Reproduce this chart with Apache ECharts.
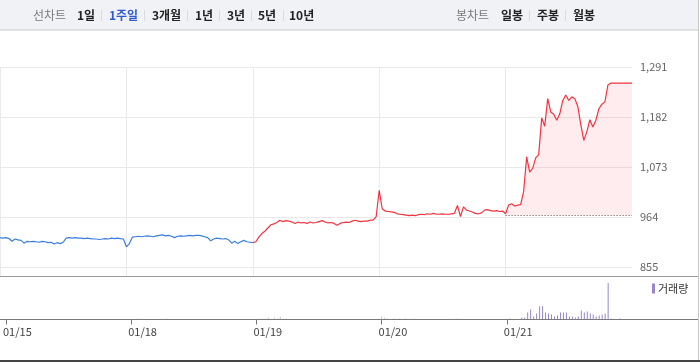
<!DOCTYPE html>
<html><head><meta charset="utf-8">
<script src="https://cdn.jsdelivr.net/npm/echarts@6/dist/echarts.min.js"></script>
<style>html,body{margin:0;padding:0;background:#fff}#c{width:700px;height:362px}</style>
</head><body><div id="c"></div>
<script>
// ---- data ----
const dates = ['01/15', '01/18', '01/19', '01/20', '01/21'];
const yTicks = [855, 964, 1073, 1182, 1291];
const prevClose = 967;
const priceD1 = [919,918,919,917,911,916,914,913,907,911,910,911,910,909,911,910,908,909,905,908,906,909,918,919,918,919,918,918,917,918,917,916,916,915,916,917,916,918,917,918,917,916];
const priceD2 = [899,906,920,921,922,921,922,923,922,921,923,924,925,923,924,922,919,922,923,922,923,924,923,924,924,923,921,919,912,916,918,917,916,917,914,907,911,906,910,913,910,909];
const priceD3 = [908,910,920,928,933,940,947,949,952,957,954,956,955,953,950,953,951,952,950,953,951,952,954,956,953,951,952,950,946,950,952,953,952,955,957,955,954,955,955,957,957,965];
const priceD4 = [1022,982,977,976,975,974,971,970,969,968,967,968,967,969,970,969,971,970,972,970,970,971,970,970,971,972,989,965,986,979,977,975,972,971,973,979,980,978,977,978,976,977];
const priceD5 = [971,990,993,988,990,991,1020,1095,1062,1070,1093,1100,1180,1162,1222,1193,1188,1175,1189,1218,1230,1218,1226,1222,1205,1165,1131,1150,1176,1160,1175,1200,1210,1215,1252,1256,1256,1256,1256,1256,1256,1256,1256];
const volD1 = [0,0,0,0,0,0,0,0,0,0,0,0,0,0,0,0,0,0,0,0,0,0,0,0,0,0,0,0,0,0,0,0,0,0,0,0,0,0,0,0,0,0];
const volD2 = [0,0,10,10,0,0,0,0,0,0,0,0,10,0,0,0,0,0,0,0,0,0,0,0,0,0,0,0,0,0,0,0,0,0,0,0,0,0,0,0,0,0];
const volD3 = [0,0,10,10,20,0,20,10,30,0,10,0,0,0,0,0,0,0,0,0,0,0,0,0,0,0,0,0,0,0,0,0,0,0,0,0,0,0,0,0,0,0];
const volD4 = [30,20,10,0,10,0,10,0,10,0,0,10,0,0,0,0,0,0,0,0,0,0,0,0,0,10,10,0,0,0,0,0,0,0,0,0,0,0,0,0,0,0];
const volD5 = [0,10,0,0,0,20,20,70,100,30,60,130,130,70,60,50,30,40,70,70,70,30,30,20,30,90,70,80,60,50,30,40,50,60,360,10,0,0,10,0,0,0,0];

// ---- build ----
const priceDays = [priceD1, priceD2, priceD3, priceD4, priceD5];
const volDays = [volD1, volD2, volD3, volD4, volD5];
const cats = [], prices = [], vols = [], dayStart = [];
priceDays.forEach((arr, d) => {
  dayStart.push(cats.length);
  arr.forEach((v, j) => {
    cats.push(dates[d] + ' ' + j);
    prices.push(v);
    vols.push({ value: volDays[d][j], itemStyle: { color: d === 4 ? '#9886c9' : '#c9c9c9' } });
  });
});
const N = cats.length;
const isDayStart = (i) => dayStart.indexOf(i) >= 0;
const slice = (a, b) => prices.map((v, i) => (i >= a && i <= b ? v : '-'));
const blueEnd = dayStart[2], areaStart = dayStart[4];

const FONT = '"Noto Sans CJK KR", "Noto Sans", sans-serif';
const chart = echarts.init(document.getElementById('c'), null, { renderer: 'canvas' });

// toolbar graphics
const tb = [];
tb.push({ type: 'rect', z: 0, shape: { x: -1, y: -1, width: 699.5, height: 31 }, style: { fill: '#f1f2f6', stroke: '#c9c9cc', lineWidth: 1 } });
const items = [
  ['선차트', 33, '#7a7a7a', 'normal'], ['1일', 77, '#222', 'bold'], ['1주일', 109, '#2f5bd0', 'bold'],
  ['3개월', 152, '#222', 'bold'], ['1년', 195, '#222', 'bold'], ['3년', 227, '#222', 'bold'],
  ['5년', 258, '#222', 'bold'], ['10년', 289, '#222', 'bold'],
  ['봉차트', 456, '#7a7a7a', 'normal'], ['일봉', 501, '#222', 'bold'], ['주봉', 537, '#222', 'bold'], ['월봉', 573, '#222', 'bold']
];
items.forEach(([t, x, c, w]) => tb.push({ type: 'text', z: 2, style: { text: t, x: x, y: 15.5, fill: c, font: w + ' 12px ' + FONT, align: 'left', verticalAlign: 'middle' } }));
[101, 144, 187, 219, 251, 283, 529, 565].forEach(x => tb.push({ type: 'rect', z: 2, shape: { x: x, y: 10, width: 1, height: 11 }, style: { fill: '#dcdcdc' } }));
// frame lines
tb.push({ type: 'line', z: 5, shape: { x1: 698.5, y1: 30, x2: 698.5, y2: 360 }, style: { stroke: '#c9c9cc', lineWidth: 1 } });
tb.push({ type: 'line', z: 5, shape: { x1: 0, y1: 276.5, x2: 698, y2: 276.5 }, style: { stroke: '#999', lineWidth: 1 } });
tb.push({ type: 'line', z: 5, shape: { x1: 0, y1: 319.5, x2: 698, y2: 319.5 }, style: { stroke: '#7a7a7a', lineWidth: 1 } });
tb.push({ type: 'rect', z: 5, shape: { x: 0, y: 360, width: 700, height: 2 }, style: { fill: '#444' } });

const option = {
  animation: false,
  backgroundColor: '#fff',
  textStyle: { fontFamily: FONT },
  graphic: tb,
  legend: {
    data: [{ name: '거래량', icon: 'rect' }],
    left: 652, top: 283, padding: 0, itemWidth: 3, itemHeight: 10, itemGap: 0,
    textStyle: { fontSize: 11, color: '#333', fontFamily: FONT, padding: [0, 0, 0, -2] },
    selectedMode: false
  },
  grid: [
    { left: 0, right: 68, top: 67, bottom: 85 },
    { left: 0, right: 68, top: 277, bottom: 42.5 }
  ],
  xAxis: [
    {
      type: 'category', gridIndex: 0, data: cats, boundaryGap: false,
      axisLine: { show: false }, axisTick: { show: false }, axisLabel: { show: false },
      splitLine: { show: true, interval: (i) => isDayStart(i), lineStyle: { color: '#ebebeb', width: 1 } }
    },
    {
      type: 'category', gridIndex: 1, data: cats, boundaryGap: false,
      axisLine: { show: false },
      axisTick: { show: true, interval: (i) => isDayStart(i), length: 5, lineStyle: { color: '#777' } },
      axisLabel: { show: true, interval: (i) => isDayStart(i), align: 'left', margin: 7, fontSize: 11, color: '#444',
        padding: [0, 0, 0, -3], formatter: (v) => v.split(' ')[0] },
      splitLine: { show: false }
    }
  ],
  yAxis: [
    {
      type: 'value', gridIndex: 0, position: 'right', min: 833.2, max: 1291,
      axisLine: { show: false },
      axisTick: { show: false, customValues: yTicks },
      axisLabel: { show: true, customValues: yTicks, margin: 8, fontSize: 11, color: '#666',
        formatter: (v) => Math.round(v).toLocaleString('en-US') },
      splitLine: { show: true, lineStyle: { color: '#e9e9e9', width: 1 } }
    },
    {
      type: 'value', gridIndex: 1, min: 0, max: 420, show: false, splitLine: { show: false }
    }
  ],
  series: [
    { name: 'blue', type: 'line', xAxisIndex: 0, yAxisIndex: 0, data: slice(0, blueEnd), symbol: 'none',
      lineStyle: { color: '#3a7ee0', width: 1.2 }, itemStyle: { color: '#3a7ee0' }, z: 3 },
    { name: 'red', type: 'line', xAxisIndex: 0, yAxisIndex: 0, data: slice(blueEnd, areaStart), symbol: 'none',
      lineStyle: { color: '#f5323f', width: 1.2 }, itemStyle: { color: '#f5323f' }, z: 3 },
    { name: 'redArea', type: 'line', xAxisIndex: 0, yAxisIndex: 0, data: slice(areaStart, N - 1), symbol: 'none',
      lineStyle: { color: '#f5323f', width: 1.2 }, itemStyle: { color: '#f5323f' }, z: 3,
      areaStyle: { origin: prevClose, color: 'rgba(250,80,90,0.15)' },
      markLine: { silent: true, symbol: ['none', 'none'], label: { show: false },
        lineStyle: { color: '#555', type: [1, 2], width: 1 },
        data: [[{ xAxis: cats[areaStart], yAxis: prevClose }, { xAxis: cats[N - 1], yAxis: prevClose }]] } },
    { name: '거래량', type: 'bar', xAxisIndex: 1, yAxisIndex: 1, data: vols, barWidth: 1, barGap: '0%',
      itemStyle: { color: '#9886c9' } }
  ]
};
chart.setOption(option);
</script>
</body></html>
